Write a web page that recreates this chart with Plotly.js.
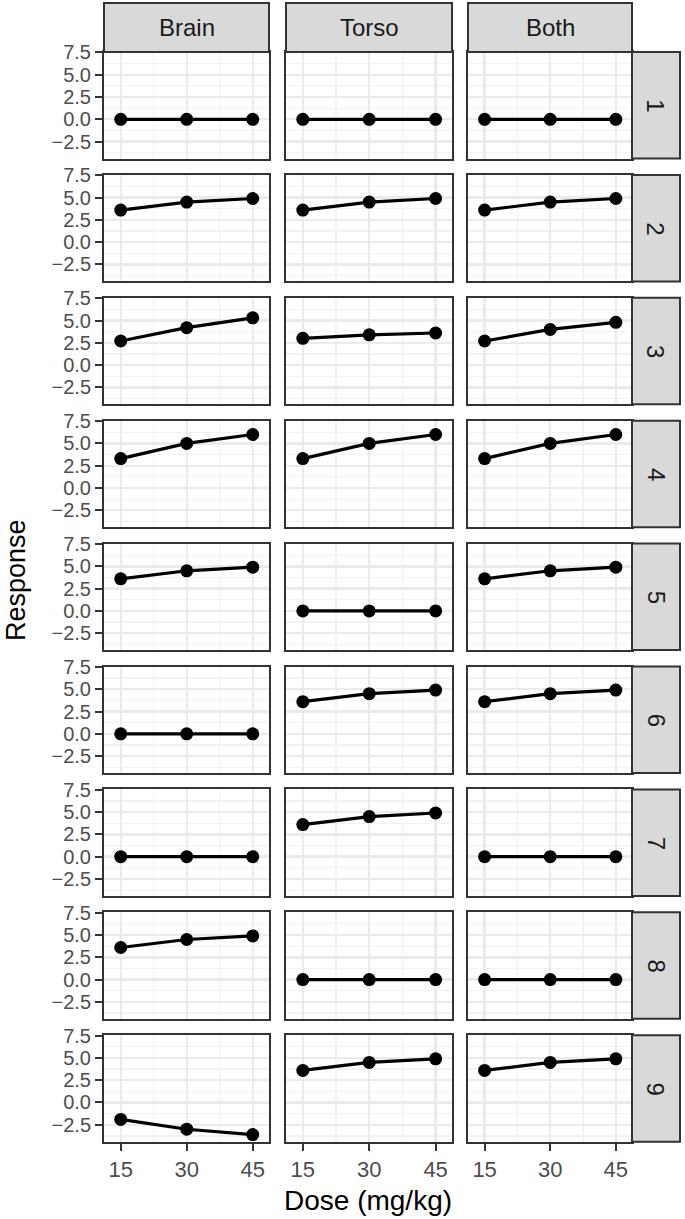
<!DOCTYPE html>
<html>
<head>
<meta charset="utf-8">
<script src="https://cdn.plot.ly/plotly-3.0.1.min.js"></script>
<style>
  html, body { margin: 0; padding: 0; background: #fff; }
  #chart { width: 685px; height: 1219px; }
</style>
</head>
<body>
<div id="chart"></div>
<script>
// dose levels and facet labels
const doses = [15, 30, 45];
const sites = ['Brain', 'Torso', 'Both'];
const groups = ['1', '2', '3', '4', '5', '6', '7', '8', '9'];

// response per group (rows), one triplet per dose
const brain = [[0, 0, 0], [3.6, 4.5, 4.9], [2.7, 4.2, 5.3], [3.3, 5.0, 6.0], [3.6, 4.5, 4.9],
               [0, 0, 0], [0, 0, 0], [3.6, 4.5, 4.9], [-1.9, -3.0, -3.6]];
const torso = [[0, 0, 0], [3.6, 4.5, 4.9], [3.0, 3.4, 3.6], [3.3, 5.0, 6.0], [0, 0, 0],
               [3.6, 4.5, 4.9], [3.6, 4.5, 4.9], [0, 0, 0], [3.6, 4.5, 4.9]];
const both  = [[0, 0, 0], [3.6, 4.5, 4.9], [2.7, 4.0, 4.8], [3.3, 5.0, 6.0], [3.6, 4.5, 4.9],
               [3.6, 4.5, 4.9], [0, 0, 0], [0, 0, 0], [3.6, 4.5, 4.9]];
const yTicks = [-2.5, 0, 2.5, 5, 7.5];
const yTickText = ['\u22122.5', '0.0', '2.5', '5.0', '7.5'];

const series = [brain, torso, both];

// page geometry (px)
const W = 685, H = 1219;
const colX = [[104, 269], [286, 452], [468, 632]];
const stripRight = 680;
const stripTop = 3, firstTop = 52, period = 122.9, panelH = 106.5;

const fx = px => px / W;
const fy = py => 1 - py / H;

const traces = [];
const layout = {
    width: W,
    height: H,
    margin: { l: 0, r: 0, t: 0, b: 0 },
    paper_bgcolor: '#fff',
    plot_bgcolor: '#fff',
    showlegend: false,
    font: { family: 'Liberation Sans, Arial, sans-serif', color: '#4d4d4d' },
    shapes: [],
    annotations: []
};

// centred paper-space label
function label(px, py, text, size, color, angle) {
    layout.annotations.push({
        xref: 'paper', yref: 'paper',
        x: fx(px), y: fy(py),
        xanchor: 'center', yanchor: 'middle',
        text: text, textangle: angle || 0, showarrow: false,
        font: { size: size, color: color }
    });
}

groups.forEach((g, r) => {
    const top = firstTop + r * period;
    const bottom = top + panelH;
    sites.forEach((s, c) => {
        const k = r * 3 + c + 1;
        const xa = 'xaxis' + (k === 1 ? '' : k);
        const ya = 'yaxis' + (k === 1 ? '' : k);
        const xr = 'x' + (k === 1 ? '' : k);
        const yr = 'y' + (k === 1 ? '' : k);
        const lastRow = r === groups.length - 1;
        const firstCol = c === 0;

        traces.push({
            x: doses,
            y: series[c][r],
            xaxis: xr,
            yaxis: yr,
            type: 'scatter',
            mode: 'lines+markers',
            line: { color: '#000', width: 3.2 },
            marker: { color: '#000', size: 13 },
            hoverinfo: 'skip'
        });

        layout[xa] = {
            domain: [fx(colX[c][0]), fx(colX[c][1])],
            anchor: yr,
            range: [11.2, 48.7],
            tickvals: doses,
            ticktext: doses.map(String),
            showticklabels: lastRow,
            ticks: lastRow ? 'outside' : '',
            ticklen: 7,
            tickwidth: 2,
            tickcolor: '#333',
            tickfont: { size: 22, color: '#4d4d4d' },
            showgrid: true,
            gridcolor: '#ebebeb',
            gridwidth: 2.4,
            minor: { tickvals: [22.5, 37.5], showgrid: true, gridcolor: '#f2f2f2', gridwidth: 1.2 },
            zeroline: false,
            showline: true,
            mirror: true,
            linecolor: '#333',
            linewidth: 2,
            fixedrange: true
        };
        layout[ya] = {
            domain: [fy(bottom), fy(top)],
            anchor: xr,
            range: [-4.4, 7.55],
            tickvals: yTicks,
            ticktext: yTickText,
            showticklabels: firstCol,
            ticks: firstCol ? 'outside' : '',
            ticklen: 7,
            tickwidth: 2,
            tickcolor: '#333',
            tickfont: { size: 20, color: '#4d4d4d' },
            showgrid: true,
            gridcolor: '#ebebeb',
            gridwidth: 2.4,
            minor: { tickvals: [-3.75, -1.25, 1.25, 3.75, 6.25], showgrid: true, gridcolor: '#f2f2f2', gridwidth: 1.2 },
            zeroline: false,
            showline: true,
            mirror: true,
            linecolor: '#333',
            linewidth: 2,
            fixedrange: true
        };
    });

    // row strip on the right
    layout.shapes.push({
        type: 'rect', xref: 'paper', yref: 'paper',
        x0: fx(colX[2][1]), x1: fx(stripRight), y0: fy(bottom), y1: fy(top),
        fillcolor: '#d9d9d9', line: { color: '#333', width: 2 }, layer: 'above'
    });
    label((colX[2][1] + stripRight) / 2, (top + bottom) / 2, g, 24, '#1a1a1a', 90);
});

// column strips on top
sites.forEach((s, c) => {
    layout.shapes.push({
        type: 'rect', xref: 'paper', yref: 'paper',
        x0: fx(colX[c][0]), x1: fx(colX[c][1]), y0: fy(firstTop), y1: fy(stripTop),
        fillcolor: '#d9d9d9', line: { color: '#333', width: 2 }, layer: 'above'
    });
    label((colX[c][0] + colX[c][1]) / 2, (stripTop + firstTop) / 2, s, 24, '#1a1a1a');
});

// axis titles
label(368, 1200, 'Dose (mg/kg)', 28, '#000');
label(16, 580, 'Response', 27, '#000', -90);

Plotly.newPlot('chart', traces, layout, {
    staticPlot: true,
    displayModeBar: false
});
</script>
</body>
</html>
